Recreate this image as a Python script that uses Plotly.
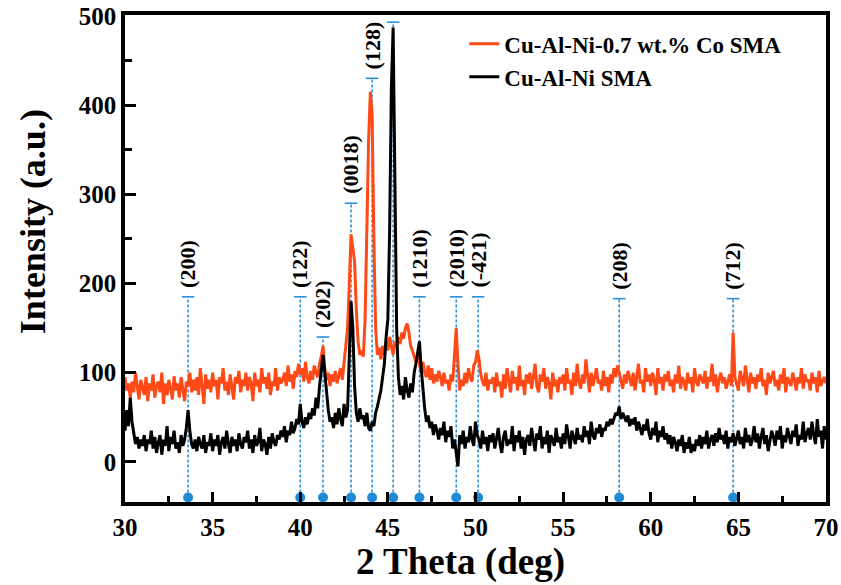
import numpy as np
import plotly.graph_objects as go


#
# data
#

two_theta = np.round(np.arange(30.0, 70.05, 0.1), 1)

# Cu-Al-Ni SMA, one row per degree (10 points of 0.1 deg)
cu_al_ni = [
    35, 58, 40, 72, 45, 30, 20, 28, 15, 25,
    18, 30, 12, 25, 20, 35, 15, 28, 10, 22,
    30, 8, 25, 18, 40, 12, 28, 20, 35, 15,
    22, 10, 30, 18, 25, 38, 58, 35, 20, 15,
    25, 12, 28, 20, 15, 30, 10, 22, 18, 32,
    12, 25, 18, 30, 8, 22, 28, 15, 35, 20,
    10, 28, 18, 25, 12, 32, 20, 15, 28, 22,
    35, 15, 25, 10, 30, 18, 22, 38, 12, 25,
    20, 8, 28, 15, 32, 22, 18, 30, 25, 35,
    28, 40, 22, 35, 30, 45, 32, 38, 48, 42,
    65, 45, 38, 50, 42, 55, 48, 60, 52, 72,
    60, 85, 105, 120, 100, 75, 58, 45, 50, 38,
    55, 42, 60, 48, 40, 65, 50, 58, 110, 180,
    150, 85, 55, 45, 60, 48, 52, 40, 55, 38,
    35, 45, 40, 55, 62, 70, 80, 95, 110, 140,
    160, 260, 420, 487, 300, 150, 95, 75, 85, 70,
    95, 80, 72, 88, 78, 100, 110, 125, 135, 105,
    80, 60, 45, 52, 38, 45, 30, 42, 35, 25,
    38, 30, 45, 22, 35, 28, 40, 15, 25, 10,
    -5, 30, 20, 35, 15, 28, 22, 40, 25, 18,
    45, 30, 25, 15, 35, 20, 28, 12, 30, 22,
    32, 15, 25, 38, 20, 10, 28, 35, 18, 25,
    20, 40, 12, 30, 22, 35, 15, 28, 8, 25,
    30, 18, 38, 22, 12, 32, 25, 40, 15, 28,
    20, 35, 10, 30, 25, 18, 38, 22, 28, 15,
    32, 20, 42, 25, 15, 35, 28, 20, 38, 25,
    30, 22, 40, 28, 35, 20, 45, 30, 25, 38,
    32, 42, 28, 38, 35, 45, 40, 48, 42, 50,
    55, 52, 62, 48, 55, 50, 45, 52, 40, 48,
    42, 50, 35, 45, 38, 30, 42, 35, 48, 32,
    25, 38, 30, 45, 22, 35, 28, 40, 25, 32,
    20, 30, 15, 28, 22, 12, 25, 18, 30, 10,
    22, 15, 28, 10, 20, 12, 25, 18, 30, 15,
    28, 20, 35, 15, 25, 30, 18, 32, 22, 38,
    25, 30, 20, 35, 15, 28, 22, 32, 18, 25,
    35, 20, 28, 15, 38, 22, 30, 18, 25, 40,
    22, 32, 15, 28, 38, 20, 30, 12, 25, 35,
    28, 18, 35, 25, 40, 15, 30, 22, 38, 28,
    20, 35, 28, 42, 18, 30, 25, 45, 22, 32,
    38, 25, 45, 30, 20, 48, 28, 35, 15, 40,
    25,
]

# Cu-Al-Ni-0.7 wt.% Co SMA
cu_al_ni_co = [
    95, 80, 88, 72, 90, 78, 100, 85, 70, 92,
    82, 75, 95, 68, 88, 80, 98, 72, 85, 90,
    78, 100, 65, 88, 75, 92, 82, 70, 96, 80,
    88, 72, 95, 80, 68, 90, 85, 100, 78, 92,
    80, 95, 75, 105, 88, 65, 98, 82, 92, 78,
    100, 85, 92, 70, 95, 88, 105, 80, 90, 75,
    98, 82, 70, 95, 88, 102, 78, 92, 85, 100,
    80, 95, 88, 68, 100, 85, 92, 78, 105, 88,
    95, 82, 100, 75, 90, 85, 105, 80, 95, 88,
    92, 100, 85, 108, 90, 98, 82, 102, 95, 110,
    98, 105, 90, 112, 95, 88, 102, 92, 108, 100,
    95, 110, 118, 130, 105, 92, 100, 85, 98, 90,
    102, 88, 95, 105, 92, 110, 125, 150, 200, 255,
    240, 225, 170, 135, 120, 125, 118, 160, 260, 360,
    415, 390, 250, 150, 120, 128, 115, 130, 120, 135,
    125, 140, 130, 120, 135, 128, 140, 132, 145, 138,
    150, 155, 145, 130, 125, 118, 112, 120, 108, 100,
    112, 100, 95, 108, 92, 105, 88, 98, 90, 102,
    95, 85, 100, 88, 92, 80, 98, 90, 120, 150,
    110, 80, 92, 85, 100, 88, 105, 95, 90, 108,
    112, 125, 115, 98, 90, 85, 100, 80, 92, 88,
    95, 78, 100, 85, 90, 72, 98, 82, 105, 88,
    78, 102, 88, 95, 80, 108, 85, 92, 75, 98,
    88, 100, 82, 95, 110, 85, 78, 98, 90, 105,
    82, 95, 88, 70, 100, 85, 92, 78, 95, 88,
    98, 80, 105, 88, 92, 75, 100, 85, 110, 90,
    82, 98, 88, 115, 92, 78, 100, 85, 95, 105,
    88, 92, 80, 102, 85, 95, 78, 98, 88, 105,
    95, 108, 100, 90, 82, 98, 88, 102, 92, 85,
    100, 80, 95, 110, 88, 92, 78, 105, 90, 98,
    85, 100, 92, 75, 105, 88, 95, 80, 98, 90,
    102, 85, 92, 78, 98, 88, 108, 82, 95, 90,
    80, 100, 88, 95, 78, 105, 90, 85, 98, 92,
    88, 102, 82, 95, 90, 110, 85, 98, 78, 92,
    100, 88, 95, 82, 90, 98, 85, 145, 95, 88,
    80, 102, 92, 85, 108, 90, 78, 100, 88, 95,
    82, 98, 90, 105, 85, 92, 75, 100, 88, 95,
    102, 85, 92, 80, 98, 88, 105, 78, 95, 90,
    85, 100, 92, 80, 95, 88, 105, 82, 98, 90,
    92, 80, 100, 88, 95, 78, 102, 85, 90, 95,
    88,
]

# reference peak positions, marker heights and labels
peak_pos    = [33.6, 40.0, 41.3, 42.9, 44.1, 45.3, 46.8, 48.9, 50.15, 58.2, 64.7]
peak_top    = [185, 185, 140, 290, 430, 493, 185, 185, 185, 183, 183]
peak_labels = ["(200)", "(122)", "(202)", "(0018)", "(128)", "",
               "(1210)", "(2010)", "(-421)", "(208)", "(712)"]

Y_FLOOR = -40

ORANGE = "#FF4A17"
BLUE   = "#1F8AD6"
FONT   = "Liberation Serif"


#
# plot
#

fig = go.Figure()

# dashed drop lines for the reference peaks
for px, top in zip(peak_pos, peak_top):
    fig.add_scatter(
        x=[px, px], y=[Y_FLOOR, top],
        mode="lines",
        line=dict(color=BLUE, width=1.5, dash="3px,2px"),
        showlegend=False, hoverinfo="skip",
    )

# caps at top of each drop line
fig.add_scatter(
    x=peak_pos, y=peak_top, mode="markers",
    marker=dict(symbol="line-ew", size=9, line=dict(color=BLUE, width=1.5)),
    showlegend=False, hoverinfo="skip",
)

fig.add_scatter(
    x=two_theta, y=cu_al_ni_co, mode="lines",
    line=dict(color=ORANGE, width=3),
    name="Cu-Al-Ni-0.7 wt.% Co SMA",
)
fig.add_scatter(
    x=two_theta, y=cu_al_ni, mode="lines",
    line=dict(color="black", width=3),
    name="Cu-Al-Ni SMA",
)

# dots on the x axis
fig.add_scatter(
    x=peak_pos, y=[Y_FLOOR] * len(peak_pos), mode="markers",
    marker=dict(size=10, color=BLUE),
    cliponaxis=False, showlegend=False, hoverinfo="skip",
)

for px, top, lab in zip(peak_pos, peak_top, peak_labels):
    if not lab:
        continue
    fig.add_annotation(
        x=px, y=top, text="<b>%s</b>" % lab, textangle=-90,
        showarrow=False, xanchor="center", yanchor="bottom", yshift=7,
        font=dict(family=FONT, size=22, color="black"),
    )

# axis titles (placed off-centre like the original)
fig.add_annotation(
    xref="paper", yref="paper", x=0.478, y=-0.123,
    text="<b>2 Theta (deg)</b>", showarrow=False,
    xanchor="center", yanchor="middle",
    font=dict(family=FONT, size=37, color="black"),
)
fig.add_annotation(
    xref="paper", yref="paper", x=-0.131, y=0.575,
    text="<b>Intensity (a.u.)</b>", showarrow=False, textangle=-90,
    xanchor="center", yanchor="middle",
    font=dict(family=FONT, size=36, color="black"),
)

bold_ticks = dict(family=FONT, size=25, color="black", weight="bold")

axis_common = dict(
    showline=True, linewidth=3.5, linecolor="black", mirror=True,
    showgrid=False, zeroline=False, automargin=False,
    ticks="inside", tickwidth=3, tickcolor="black",
    tickfont=bold_ticks,
)

fig.update_xaxes(
    range=[30, 70], dtick=5, ticklen=10,
    minor=dict(dtick=2.5, ticks="inside", ticklen=6, tickwidth=3, tickcolor="black"),
    **axis_common,
)
fig.update_yaxes(
    range=[-45, 501], dtick=100, ticklen=11,
    minor=dict(dtick=50, ticks="inside", ticklen=7, tickwidth=3, tickcolor="black"),
    **axis_common,
)

fig.update_layout(
    width=841, height=585,
    margin=dict(l=125, r=15, t=15, b=83),
    plot_bgcolor="white", paper_bgcolor="white",
    font=dict(family=FONT, color="black"),
    legend=dict(
        x=0.484, y=0.985, xanchor="left", yanchor="top",
        bgcolor="rgba(0,0,0,0)", tracegroupgap=0,
        font=dict(family=FONT, size=23, color="black", weight="bold"),
    ),
)

# the page body has a default 8px margin; drop it so the figure sits at 0,0
fig.write_html(
    "out.html",
    config={"displayModeBar": False},
    post_script="document.body.style.margin='0';",
)
